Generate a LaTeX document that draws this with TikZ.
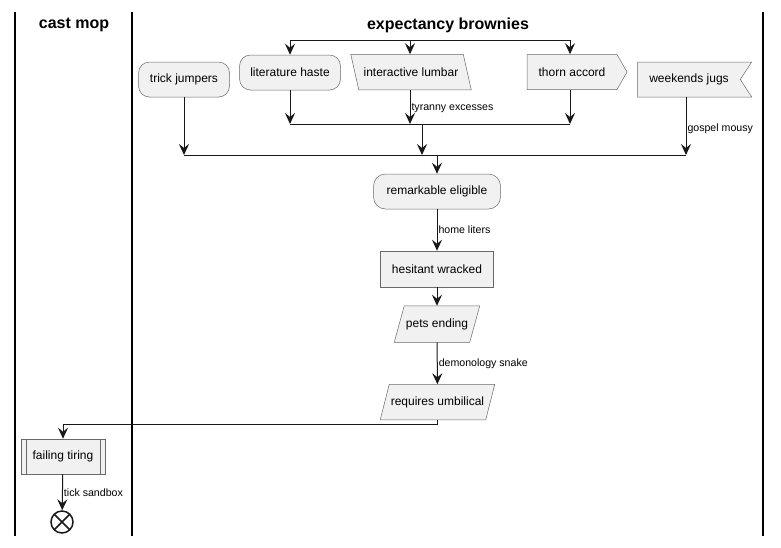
\documentclass[tikz,border=0pt]{standalone}
\usepackage{fontspec}
\setmainfont{Liberation Sans}
\usetikzlibrary{shapes, shapes.symbols, arrows.meta, positioning, backgrounds}
\definecolor{boxfill}{HTML}{F1F1F1}
\definecolor{boxline}{HTML}{181818}
\tikzstyle{activity}=[draw=boxline!65, fill=boxfill, line width=0.5pt, minimum height=35pt, inner sep=0pt, font=\fontsize{12}{14}\selectfont]
\tikzstyle{roundAct}=[activity, rounded corners=11pt]
\tikzstyle{slantAct}=[activity, draw=none, fill=none]
\tikzstyle{slantLine}=[draw=boxline!65, fill=boxfill, line width=0.5pt]
\tikzstyle{sendAct}=[activity, signal, signal to=east, signal pointer angle=120]
\tikzstyle{receiveAct}=[activity, signal, signal from=east, signal to=nowhere, signal pointer angle=114]
\tikzstyle{flow}=[draw=boxline, line width=1pt, -{Stealth[length=11pt,width=10pt,inset=4pt]}]
\tikzstyle{bar}=[draw=boxline, line width=1pt]
\tikzstyle{lane}=[draw=black, line width=1.5pt]
\tikzstyle{flowLabel}=[font=\fontsize{10.6}{12}\selectfont, inner sep=1pt, anchor=west]
\tikzstyle{laneTitle}=[font=\bfseries\fontsize{16}{18}\selectfont]

\begin{document}
\begin{tikzpicture}[x=1pt, y=-1pt]
    \useasboundingbox (0, 0) rectangle (781, 547);

    % swimlanes
    \draw[lane] (15, 12) -- (15, 536);
    \draw[lane] (132, 12) -- (132, 536);
    \draw[lane] (763, 12) -- (763, 536);
    \node[laneTitle] (castTitle) at (74, 25) {cast mop};
    \node[laneTitle] (expTitle) at (448, 25) {expectancy brownies};

    % fork
    \coordinate (forkL) at (290, 40);
    \coordinate (forkM) at (410, 40);
    \coordinate (forkR) at (570, 40);
    \draw[bar] (forkL) -- (forkR);

    \node (trick)[roundAct, minimum width=91pt] at (184, 79.5) {trick jumpers};
    \node (lit)[roundAct, minimum width=101pt] at (290, 72.5) {literature haste};
    \node (inter)[slantAct, minimum width=112pt] at (411, 72) {interactive lumbar};
    \node (thorn)[sendAct, minimum width=100pt] at (572, 72) {thorn accord};
    \node (weekends)[receiveAct, minimum width=114pt] at (689, 79.5) {weekends jugs};
    \begin{scope}[on background layer]
        \draw[slantLine] ([xshift=-4pt]inter.north west) -- ([xshift=-4pt]inter.north east)
            -- ([xshift=4pt]inter.south east) -- ([xshift=4pt]inter.south west) -- cycle;
    \end{scope}

    \draw[flow] (forkL) -- (lit);
    \draw[flow] (forkM) -- (forkM |- inter.north);
    \draw[flow] (forkR) -- (forkR |- thorn.north);

    % inner join
    \coordinate (joinL) at (290, 124);
    \coordinate (joinM) at (410, 124);
    \coordinate (joinR) at (570, 124);
    \coordinate (joinOut) at (422, 124);
    \draw[bar] (joinL) -- (joinR);

    \draw[flow] (lit) -- (joinL);
    \draw[flow] (joinM |- inter.south) -- node[flowLabel, pos=0.55] {tyranny excesses} (joinM);
    \draw[flow] (joinR |- thorn.south) -- (joinR);

    % outer join
    \coordinate (mergeL) at (184, 155);
    \coordinate (mergeIn) at (422, 155);
    \coordinate (mergeOut) at (437, 155);
    \coordinate (mergeR) at (686, 155);
    \draw[bar] (mergeL) -- (mergeR);

    \draw[flow] (trick) -- (mergeL);
    \draw[flow] (joinOut) -- (mergeIn);
    \draw[flow] (mergeR |- weekends.south) -- node[flowLabel, pos=0.55] {gospel mousy} (mergeR);

    \node (rem)[roundAct, minimum width=127pt, rounded corners=12pt] at (437, 191.5) {remarkable eligible};
    \node (hes)[activity, minimum width=113pt, minimum height=36pt] at (437, 269) {hesitant wracked};
    \node (pets)[slantAct, minimum width=75pt, minimum height=36pt] at (437, 324) {pets ending};
    \node (req)[slantAct, minimum width=105pt] at (437.5, 402) {requires umbilical};
    \begin{scope}[on background layer]
        \draw[slantLine] ([xshift=5pt]pets.north west) -- ([xshift=5pt]pets.north east)
            -- ([xshift=-5pt]pets.south east) -- ([xshift=-5pt]pets.south west) -- cycle;
        \draw[slantLine] ([xshift=4.5pt]req.north west) -- ([xshift=4.5pt]req.north east)
            -- ([xshift=-4.5pt]req.south east) -- ([xshift=-4.5pt]req.south west) -- cycle;
    \end{scope}

    \draw[flow] (mergeOut) -- (rem);
    \draw[flow] (rem) -- node[flowLabel] {home liters} (hes);
    \draw[flow] (hes) -- (pets);
    \draw[flow] (pets) -- node[flowLabel] {demonology snake} (req);

    \node (fail)[activity, minimum width=84pt] at (63, 456.5) {failing tiring};
    \draw[draw=boxline!65, line width=0.5pt] ([xshift=5pt]fail.north west) -- ([xshift=5pt]fail.south west);
    \draw[draw=boxline!65, line width=0.5pt] ([xshift=-5pt]fail.north east) -- ([xshift=-5pt]fail.south east);
    \node (stop)[circle, draw=boxline, line width=1.5pt, minimum size=22pt, inner sep=0pt,
        path picture={\draw[line width=1.5pt, boxline] (path picture bounding box.north west) -- (path picture bounding box.south east)
            (path picture bounding box.north east) -- (path picture bounding box.south west);}] at (62, 522) {};

    \coordinate (turnL) at (63, 424);
    \draw[flow] (req.south) |- (turnL) -- (fail);
    \draw[flow] (fail) -- node[flowLabel] {tick sandbox} (stop);

\end{tikzpicture}
\end{document}
